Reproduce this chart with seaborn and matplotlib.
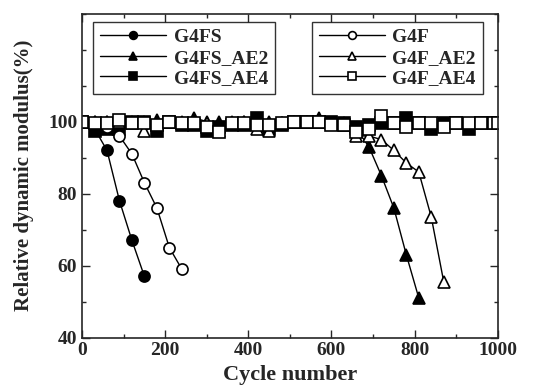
import numpy as np
import pandas as pd
import matplotlib.pyplot as plt
import seaborn as sns
from matplotlib.ticker import MultipleLocator

# cycle numbers / relative dynamic modulus (%)
cyc_g4fs = [0, 30, 60, 90, 120, 150]
mod_g4fs = [100, 98, 92, 78, 67, 57]

cyc_g4fs_ae2 = [0, 30, 60, 90, 120, 150, 180, 210, 240, 270, 300, 330, 360, 390, 420,
                450, 480, 510, 540, 570, 600, 630, 660, 690, 720, 750, 780, 810]
mod_g4fs_ae2 = [100, 100, 100, 100, 100, 100, 100.5, 100, 100, 101, 100, 100, 100, 100, 100,
                100, 99.5, 100, 100, 101, 99.5, 99.5, 98, 93, 85, 76, 63, 51]

cyc_g4fs_ae4 = [0, 30, 60, 90, 120, 150, 180, 210, 240, 270, 300, 330, 360, 390, 420,
                450, 480, 510, 540, 570, 600, 630, 660, 690, 720, 750, 780, 810, 840,
                870, 900, 930, 960, 990, 1000]
mod_g4fs_ae4 = [100, 97.5, 98, 98, 100, 100, 97.5, 100, 99, 99, 97.5, 98.5, 99, 99, 101,
                98, 99, 100, 100, 100, 100, 99.5, 98.5, 99, 99.5, 99.5, 101, 99.5, 98,
                99.5, 99.5, 98, 99.5, 99.5, 99.5]

cyc_g4f = [0, 30, 60, 90, 120, 150, 180, 210, 240]
mod_g4f = [100, 99.5, 98.5, 96, 91, 83, 76, 65, 59]

cyc_g4f_ae2 = [0, 30, 60, 90, 120, 150, 180, 210, 240, 270, 300, 330, 360, 390, 420,
               450, 480, 510, 540, 570, 600, 630, 660, 690, 720, 750, 780, 810, 840, 870]
mod_g4f_ae2 = [100, 100, 100, 100, 99.5, 97.5, 99, 100, 99.5, 100, 99.5, 97.5, 99.5, 100, 98,
               97.5, 99.5, 100, 100, 100, 99.5, 99, 96, 96, 95, 92, 88.5, 86, 73.5, 55.5]

cyc_g4f_ae4 = [0, 30, 60, 90, 120, 150, 180, 210, 240, 270, 300, 330, 360, 390, 420,
               450, 480, 510, 540, 570, 600, 630, 660, 690, 720, 750, 780, 810, 840,
               870, 900, 930, 960, 990, 1000]
mod_g4f_ae4 = [100, 99.5, 99.5, 100.5, 99.5, 99.5, 99, 100, 99.5, 99.5, 98.5, 97, 99.5, 99.5, 99,
               99, 99.5, 100, 100, 100, 99, 99, 97, 98, 101.5, 99.5, 98.5, 99.5, 99.5,
               98.5, 99.5, 99.5, 99.5, 99.5, 99.5]

series = [
    ("G4FS", cyc_g4fs, mod_g4fs, "o", "black"),
    ("G4FS_AE2", cyc_g4fs_ae2, mod_g4fs_ae2, "^", "black"),
    ("G4FS_AE4", cyc_g4fs_ae4, mod_g4fs_ae4, "s", "black"),
    ("G4F", cyc_g4f, mod_g4f, "o", "white"),
    ("G4F_AE2", cyc_g4f_ae2, mod_g4f_ae2, "^", "white"),
    ("G4F_AE4", cyc_g4f_ae4, mod_g4f_ae4, "s", "white"),
]

sns.set_style("ticks")
plt.rcParams['font.family'] = ['Liberation Serif', 'DejaVu Serif']
plt.rcParams['font.weight'] = 'bold'

fig, ax = plt.subplots(figsize=(5.47, 3.88), dpi=100)
for name, x, y, mk, fc in series:
    df = pd.DataFrame({'cycle': x, 'modulus': y})
    sns.lineplot(data=df, x='cycle', y='modulus', ax=ax, color='black', linewidth=1.0,
                 marker=mk, markersize=8, markerfacecolor=fc, markeredgecolor='black',
                 markeredgewidth=1.2, label=name)

ax.set_xlim(0, 1000)
ax.set_ylim(40, 130)
ax.set_yticks([40, 60, 80, 100])
ax.xaxis.set_major_locator(MultipleLocator(200))
ax.xaxis.set_minor_locator(MultipleLocator(100))
ax.yaxis.set_minor_locator(MultipleLocator(10))
ax.tick_params(which='both', direction='in', top=True, right=True, labelsize=14)
ax.tick_params(which='major', length=6, width=1.0)
ax.tick_params(which='minor', length=3, width=1.0)
for lab in ax.get_xticklabels() + ax.get_yticklabels():
    lab.set_fontweight('bold')
for sp in ax.spines.values():
    sp.set_linewidth(1.2)
ax.set_xlabel('Cycle number', fontsize=16, fontweight='bold', labelpad=4)
ax.set_ylabel('Relative dynamic modulus(%)', fontsize=15, fontweight='bold', labelpad=10)

handles, labels = ax.get_legend_handles_labels()
leg_kw = dict(frameon=True, fancybox=False, edgecolor='black', fontsize=14,
              handlelength=3.4, handletextpad=0.4, labelspacing=0.15, borderpad=0.35,
              borderaxespad=0, markerscale=0.7)
leg1 = ax.legend(handles[:3], labels[:3], loc='upper left', bbox_to_anchor=(0.026, 0.975),
                 **leg_kw)
leg1.get_frame().set_linewidth(1.0)
ax.add_artist(leg1)
leg2 = ax.legend(handles[3:], labels[3:], loc='upper right', bbox_to_anchor=(0.964, 0.975),
                 **leg_kw)
leg2.get_frame().set_linewidth(1.0)

plt.subplots_adjust(left=0.15, right=0.91, top=0.965, bottom=0.13)
plt.savefig("out.png", dpi=100)
plt.close()
